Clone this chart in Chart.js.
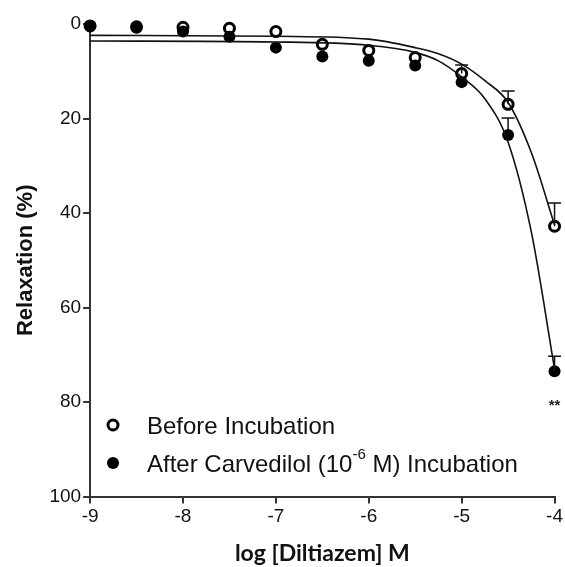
<!DOCTYPE html>
<html>
<head>
<meta charset="utf-8">
<script src="https://cdn.jsdelivr.net/npm/chart.js@4/dist/chart.umd.min.js"></script>
<style>
  html, body { margin: 0; padding: 0; background: #fff; }
  #wrap { width: 565px; height: 567px; position: relative; }
</style>
</head>
<body>
<div id="wrap"><canvas id="chart"></canvas></div>
<script>
// ===== DATA =====
var doses = [-9, -8.5, -8, -7.5, -7, -6.5, -6, -5.5, -5, -4.5, -4];
var beforeMean = [0.4, 0.6, 0.7, 0.9, 1.6, 4.3, 5.6, 7.1, 10.5, 17.0, 42.8];
var beforeErr  = [0, 0, 0, 0, 0, 0, 0, 0, 1.8, 2.8, 4.9];
var afterMean  = [0.4, 0.8, 1.6, 2.7, 5.0, 6.9, 7.8, 8.8, 12.3, 23.5, 73.5];
var afterErr   = [0, 0, 0, 0, 0, 0, 0, 0, 0, 3.6, 3.2];

// fitted curves
var curveX      = [-9, -7, -6, -5.5, -5.25, -5, -4.75, -4.5, -4.25, -4];
var beforeCurve = [2.4, 2.6, 3.2, 5.0, 6.3, 8.5, 12.0, 16.6, 27.2, 42.5];
var afterCurve  = [3.6, 3.8, 4.5, 6.0, 7.8, 11.2, 15.8, 25.0, 44.0, 73.0];

var yTicks = [0, 20, 40, 60, 80, 100];
var xTicks = [-9, -8, -7, -6, -5, -4];

var legendLabels = ["Before Incubation", "After Carvedilol (10", "-6", " M) Incubation"];

function pairs(xs, ys) {
    var out = [];
    for (var i = 0; i < xs.length; i++) out.push({ x: xs[i], y: ys[i] });
    return out;
}

// ===== ERROR BARS + LEGEND + ** =====
var extrasPlugin = {
    id: "extras",
    afterDatasetsDraw: function(chart) {
        var ctx = chart.ctx;
        var xs = chart.scales.x, ys = chart.scales.y;
        ctx.save();
        ctx.strokeStyle = "#111";
        ctx.lineWidth = 1.5;
        function bars(means, errs) {
            for (var i = 0; i < doses.length; i++) {
                if (!errs[i]) continue;
                var px = xs.getPixelForValue(doses[i]);
                var y0 = ys.getPixelForValue(means[i]);
                var y1 = ys.getPixelForValue(means[i] - errs[i]);
                ctx.beginPath();
                ctx.moveTo(px, y0);
                ctx.lineTo(px, y1);
                ctx.moveTo(px - 6.5, y1);
                ctx.lineTo(px + 6.5, y1);
                ctx.stroke();
            }
        }
        bars(beforeMean, beforeErr);
        bars(afterMean, afterErr);

        // ** under the last point
        var last = doses.length - 1;
        ctx.fillStyle = "#222";
        ctx.font = "bold 15px 'Liberation Sans', Arial, sans-serif";
        ctx.textAlign = "center";
        ctx.textBaseline = "middle";
        ctx.fillText("**", xs.getPixelForValue(doses[last]), ys.getPixelForValue(afterMean[last]) + 34);

        // legend
        var lx = 113, ly1 = 425, ly2 = 463, tx = 147;
        ctx.beginPath();
        ctx.arc(lx, ly1, 5, 0, Math.PI * 2);
        ctx.fillStyle = "#fff";
        ctx.fill();
        ctx.lineWidth = 3;
        ctx.strokeStyle = "#000";
        ctx.stroke();
        ctx.beginPath();
        ctx.arc(lx, ly2, 6, 0, Math.PI * 2);
        ctx.fillStyle = "#000";
        ctx.fill();

        ctx.fillStyle = "#111";
        ctx.textAlign = "left";
        ctx.font = "24px 'Liberation Sans', Arial, sans-serif";
        ctx.fillText(legendLabels[0], tx, ly1 + 2);
        var w = ctx.measureText(legendLabels[1]).width;
        ctx.fillText(legendLabels[1], tx, ly2 + 2);
        ctx.font = "15px 'Liberation Sans', Arial, sans-serif";
        ctx.fillText(legendLabels[2], tx + w, ly2 - 8);
        var w2 = ctx.measureText(legendLabels[2]).width;
        ctx.font = "24px 'Liberation Sans', Arial, sans-serif";
        ctx.fillText(legendLabels[3], tx + w + w2, ly2 + 2);
        ctx.restore();
    }
};

var ctx = document.getElementById("chart");
new Chart(ctx, {
    type: "scatter",
    data: {
        datasets: [
            {
                label: "Before fit",
                data: pairs(curveX, beforeCurve),
                showLine: true,
                borderColor: "#111",
                borderWidth: 1.6,
                pointRadius: 0,
                cubicInterpolationMode: "monotone",
                clip: false
            },
            {
                label: "After fit",
                data: pairs(curveX, afterCurve),
                showLine: true,
                borderColor: "#111",
                borderWidth: 1.6,
                pointRadius: 0,
                cubicInterpolationMode: "monotone",
                clip: false
            },
            {
                label: "After Carvedilol (10-6 M) Incubation",
                data: pairs(doses, afterMean),
                showLine: false,
                pointRadius: 6,
                pointBackgroundColor: "#000",
                pointBorderColor: "#000",
                pointBorderWidth: 0,
                clip: false
            },
            {
                label: "Before Incubation",
                data: pairs(doses, beforeMean),
                showLine: false,
                pointRadius: 5,
                pointBackgroundColor: "#fff",
                pointBorderColor: "#000",
                pointBorderWidth: 3,
                clip: false
            }
        ]
    },
    options: {
        responsive: true,
        maintainAspectRatio: false,
        animation: false,
        layout: { padding: { top: 24, right: 4, left: 13, bottom: 0 } },
        plugins: {
            legend: { display: false },
            tooltip: { enabled: false }
        },
        scales: {
            x: {
                type: "linear",
                min: -9,
                max: -4,
                afterBuildTicks: function(axis) {
                    axis.ticks = xTicks.map(function(v) { return { value: v }; });
                },
                border: { display: true, color: "#333", width: 2 },
                grid: { drawOnChartArea: false, tickLength: 7, color: "#333", lineWidth: 2 },
                ticks: {
                    color: "#111",
                    padding: 2,
                    font: { family: "'Liberation Sans', Arial, sans-serif", size: 19 }
                },
                title: {
                    display: true,
                    text: "log [Diltiazem] M",
                    color: "#111",
                    padding: { top: 9, bottom: 0 },
                    font: { family: "Lato, 'Open Sans', sans-serif", size: 23, weight: "bold" }
                }
            },
            y: {
                reverse: true,
                min: 0,
                max: 100,
                afterBuildTicks: function(axis) {
                    axis.ticks = yTicks.map(function(v) { return { value: v }; });
                },
                border: { display: true, color: "#333", width: 2 },
                grid: { drawOnChartArea: false, tickLength: 7, color: "#333", lineWidth: 2 },
                ticks: {
                    color: "#111",
                    padding: 2,
                    font: { family: "'Liberation Sans', Arial, sans-serif", size: 19 }
                },
                title: {
                    display: true,
                    text: "Relaxation (%)",
                    color: "#111",
                    padding: { top: 0, bottom: 8 },
                    font: { family: "'Liberation Sans', Arial, sans-serif", size: 22, weight: "bold" }
                }
            }
        }
    },
    plugins: [extrasPlugin]
});
</script>
</body>
</html>
